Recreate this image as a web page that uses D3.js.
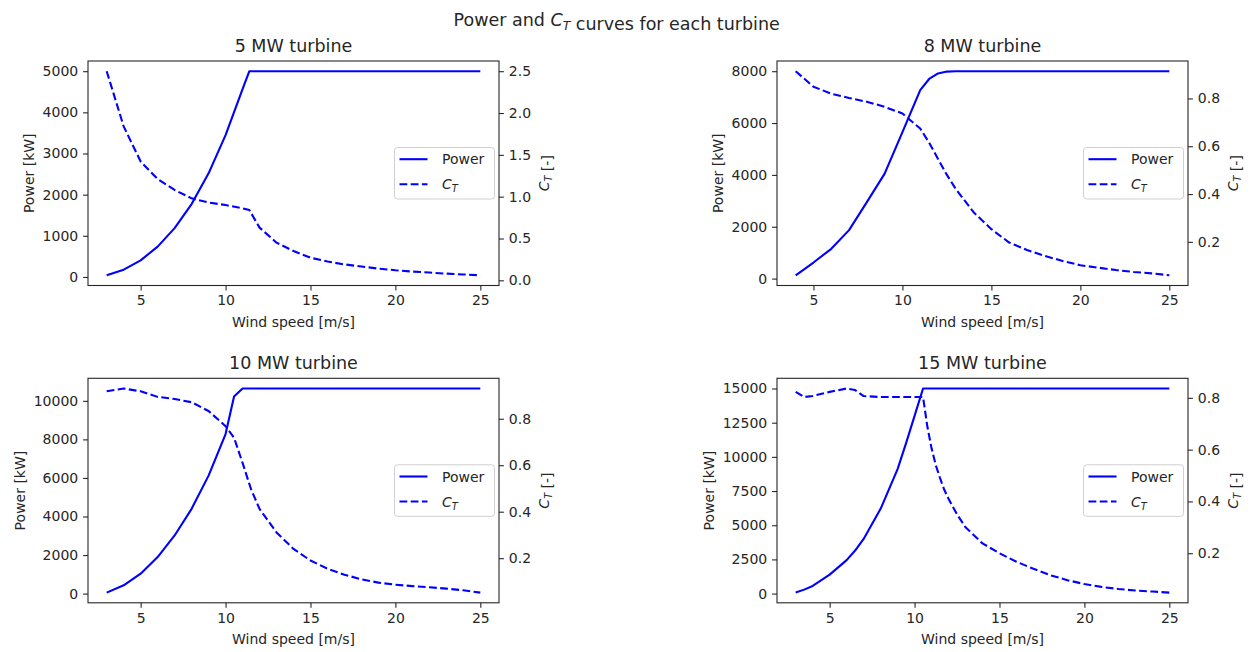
<!DOCTYPE html>
<html><head><meta charset="utf-8">
<script src="https://cdn.jsdelivr.net/npm/d3@7"></script>
<style>
body{margin:0;background:#fff}
svg{display:block;background:#fff}
</style>
</head><body><svg id="c" width="1257" height="652"></svg>
<script>
// ---------------- data ----------------
const windSpeed5 = [3,4,5,6,7,8,9,10,11,11.4,12,13,14,15,16,17,18,19,20,21,22,23,24,25];
const power5 = [40.5,177.7,403.9,737.6,1187.2,1771.1,2518.6,3448.4,4562.5,5000,5000,5000,5000,5000,5000,5000,5000,5000,5000,5000,5000,5000,5000,5000];
const ct5 = [2.5,1.84,1.42,1.21,1.08,0.98,0.93,0.90,0.86,0.84,0.63,0.45,0.35,0.27,0.225,0.19,0.165,0.14,0.12,0.105,0.093,0.08,0.07,0.06];

const windSpeed8 = [4,5,6,7,8,9,10,11,11.5,12,12.5,13,14,15,16,17,18,19,20,21,22,23,24,25];
const power8 = [128,620,1150,1870,2950,4050,5650,7270,7700,7915,7985,8000,8000,8000,8000,8000,8000,8000,8000,8000,8000,8000,8000,8000];
const ct8 = [0.914,0.849,0.82,0.802,0.786,0.765,0.737,0.674,0.615,0.547,0.48,0.421,0.324,0.253,0.197,0.166,0.141,0.12,0.102,0.092,0.082,0.074,0.068,0.06];

const windSpeed10 = [3,4,5,6,7,8,9,10,10.5,11,11.5,12,13,14,15,16,17,18,19,20,21,22,23,24,25];
const power10 = [52,430,1035,1894,3016,4397,6120,8277,10222,10640,10640,10640,10640,10640,10640,10640,10640,10640,10640,10640,10640,10640,10640,10640,10640];
const ct10 = [0.918,0.93,0.918,0.894,0.885,0.871,0.833,0.768,0.718,0.61,0.497,0.412,0.311,0.24,0.19,0.155,0.129,0.109,0.095,0.086,0.08,0.075,0.069,0.062,0.052];

const windSpeed15 = [3,3.5,4,5,6,6.5,7,8,9,9.5,10,10.5,10.75,11,11.25,11.5,11.75,12,12.5,13,14,15,16,17,18,19,20,21,22,23,24,25];
const power15 = [73,290,560,1390,2450,3150,4000,6200,9100,11000,13000,15000,15000,15000,15000,15000,15000,15000,15000,15000,15000,15000,15000,15000,15000,15000,15000,15000,15000,15000,15000,15000];
const ct15 = [0.823,0.803,0.807,0.823,0.836,0.83,0.807,0.803,0.803,0.803,0.803,0.803,0.69,0.605,0.54,0.49,0.445,0.41,0.35,0.30,0.238,0.2,0.167,0.14,0.115,0.096,0.081,0.07,0.062,0.056,0.052,0.048];

const titles = ["5 MW turbine","8 MW turbine","10 MW turbine","15 MW turbine"];
const xTicks = [5,10,15,20,25];
const powerTicks5 = [0,1000,2000,3000,4000,5000];
const powerTicks8 = [0,2000,4000,6000,8000];
const powerTicks10 = [0,2000,4000,6000,8000,10000];
const powerTicks15 = [0,2500,5000,7500,10000,12500,15000];
const ctTicks5 = [0,0.5,1.0,1.5,2.0,2.5];
const ctTicks8 = [0.2,0.4,0.6,0.8];
const ctTicks10 = [0.2,0.4,0.6,0.8];
const ctTicks15 = [0.2,0.4,0.6,0.8];

// ---------------- layout / style ----------------
const FONT = "DejaVu Sans";
const TXT = "#262626";
const BLUE = "#0000ff";
const colX = [88, 777], rowY = [61, 378.3];
const AW = 411, AH = 224.5;
const FS = 14, TFS = 17.5;
const TICK = 4.9, TPAD = 4.9;

const panels = [
  {title: titles[0], ws: windSpeed5, p: power5, ct: ct5, pt: powerTicks5, ctt: ctTicks5, c: 0, r: 0},
  {title: titles[1], ws: windSpeed8, p: power8, ct: ct8, pt: powerTicks8, ctt: ctTicks8, c: 1, r: 0},
  {title: titles[2], ws: windSpeed10, p: power10, ct: ct10, pt: powerTicks10, ctt: ctTicks10, c: 0, r: 1},
  {title: titles[3], ws: windSpeed15, p: power15, ct: ct15, pt: powerTicks15, ctt: ctTicks15, c: 1, r: 1}
];

const svg = d3.select("#c");

function padded(arr) {
  const e = d3.extent(arr), r = e[1] - e[0];
  return [e[0] - 0.05 * r, e[1] + 0.05 * r];
}
function addCT(t, size) {
  t.append("tspan").text("C").style("font-style", "italic");
  t.append("tspan").text("T").style("font-style", "italic")
    .style("font-size", (size * 0.7) + "px").attr("dy", size * 0.22);
  t.append("tspan").attr("dy", -size * 0.22).text("");
}
function styleAxis(g) {
  g.select(".domain").remove();
  g.selectAll("text").attr("font-family", FONT).attr("font-size", FS).attr("fill", TXT);
  g.selectAll(".tick line").attr("stroke", TXT).attr("stroke-width", 1.1);
  g.attr("font-family", FONT).attr("font-size", FS);
}

// Suptitle
{
  const t = svg.append("text").attr("x", 616.7).attr("y", 26).attr("text-anchor", "middle")
    .attr("font-family", FONT).style("font-size", TFS + "px").attr("fill", TXT);
  t.append("tspan").text("Power and ");
  addCT(t, TFS);
  t.append("tspan").text(" curves for each turbine");
}

panels.forEach(pn => {
  const x0 = colX[pn.c], y0 = rowY[pn.r];
  const g = svg.append("g").attr("transform", `translate(${x0},${y0})`);
  const x = d3.scaleLinear().domain(padded(pn.ws)).range([0, AW]);
  const yP = d3.scaleLinear().domain(padded(pn.p)).range([AH, 0]);
  const yC = d3.scaleLinear().domain(padded(pn.ct)).range([AH, 0]);

  const idx = d3.range(pn.ws.length);
  g.append("path").datum(idx)
    .attr("d", d3.line().x(i => x(pn.ws[i])).y(i => yP(pn.p[i])))
    .attr("fill", "none").attr("stroke", BLUE).attr("stroke-width", 2.1)
    .attr("stroke-linejoin", "round").attr("stroke-linecap", "butt");
  g.append("path").datum(idx)
    .attr("d", d3.line().x(i => x(pn.ws[i])).y(i => yC(pn.ct[i])))
    .attr("fill", "none").attr("stroke", BLUE).attr("stroke-width", 2.1)
    .attr("stroke-dasharray", "7.8,3.4").attr("stroke-linejoin", "round");

  // frame
  g.append("rect").attr("x", 0).attr("y", 0).attr("width", AW).attr("height", AH)
    .attr("fill", "none").attr("stroke", TXT).attr("stroke-width", 1.1);

  // axes
  const gx = g.append("g").attr("transform", `translate(0,${AH})`)
    .call(d3.axisBottom(x).tickValues(xTicks).tickFormat(d3.format("d")).tickSize(TICK).tickPadding(TPAD));
  styleAxis(gx);
  const gl = g.append("g")
    .call(d3.axisLeft(yP).tickValues(pn.pt).tickFormat(d3.format("d")).tickSize(TICK).tickPadding(TPAD));
  styleAxis(gl);
  const gr = g.append("g").attr("transform", `translate(${AW},0)`)
    .call(d3.axisRight(yC).tickValues(pn.ctt).tickFormat(d3.format(".1f")).tickSize(TICK).tickPadding(TPAD));
  styleAxis(gr);

  // axis labels
  g.append("text").attr("x", AW / 2).attr("y", AH + 41.5).attr("text-anchor", "middle")
    .attr("font-family", FONT).style("font-size", FS + "px").attr("fill", TXT)
    .text("Wind speed [m/s]");

  const lb = gl.node().getBBox();
  const lx = lb.x - 5.6 - 3.3;
  g.append("text").attr("transform", `translate(${lx},${AH / 2}) rotate(-90)`)
    .attr("text-anchor", "middle").attr("font-family", FONT).style("font-size", FS + "px")
    .attr("fill", TXT).text("Power [kW]");

  const rb = gr.node().getBBox();
  const rx = AW + rb.x + rb.width + 5.6 + 12.5;
  const rt = g.append("text").attr("transform", `translate(${rx},${AH / 2}) rotate(-90)`)
    .attr("text-anchor", "middle").attr("font-family", FONT).style("font-size", FS + "px")
    .attr("fill", TXT);
  addCT(rt, FS);
  rt.append("tspan").text(" [-]");

  // title
  g.append("text").attr("x", AW / 2).attr("y", -9.5).attr("text-anchor", "middle")
    .attr("font-family", FONT).style("font-size", TFS + "px").attr("fill", TXT).text(pn.title);

  // legend
  const LW = 100, LH = 51.5;
  const lgx = AW - 4.5 - LW, lgy = AH / 2 - LH / 2;
  const lg = g.append("g").attr("transform", `translate(${lgx},${lgy})`);
  lg.append("rect").attr("width", LW).attr("height", LH).attr("rx", 3)
    .attr("fill", "#fff").attr("fill-opacity", 0.8).attr("stroke", "#d0d0d0").attr("stroke-width", 1);
  lg.append("line").attr("x1", 5).attr("x2", 33).attr("y1", 11.7).attr("y2", 11.7)
    .attr("stroke", BLUE).attr("stroke-width", 2.1);
  lg.append("line").attr("x1", 5).attr("x2", 33).attr("y1", 36.7).attr("y2", 36.7)
    .attr("stroke", BLUE).attr("stroke-width", 2.1).attr("stroke-dasharray", "7.8,3.4");
  lg.append("text").attr("x", 47.5).attr("y", 11.7).attr("dy", "0.36em")
    .attr("font-family", FONT).style("font-size", FS + "px").attr("fill", TXT).text("Power");
  const lt = lg.append("text").attr("x", 47.5).attr("y", 36.7).attr("dy", "0.36em")
    .attr("font-family", FONT).style("font-size", FS + "px").attr("fill", TXT);
  addCT(lt, FS);
});
</script>
</body></html>
